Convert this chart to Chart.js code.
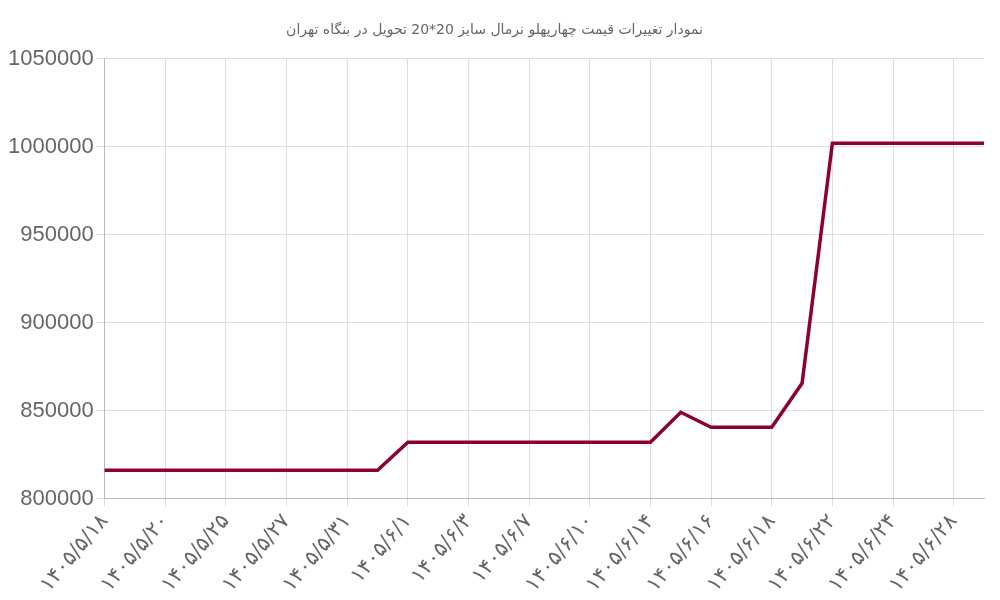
<!DOCTYPE html>
<html><head><meta charset="utf-8">
<script src="https://cdn.jsdelivr.net/npm/chart.js@4"></script>
<style>html,body{margin:0;padding:0;background:#fff}#w{width:1000px;height:600px}</style>
</head><body><div id="w"><canvas id="c"></canvas></div>
<script>
const labels = ["۱۴۰۵/۵/۱۸","۱۴۰۵/۵/۱۹","۱۴۰۵/۵/۲۰","۱۴۰۵/۵/۲۱","۱۴۰۵/۵/۲۵","۱۴۰۵/۵/۲۶","۱۴۰۵/۵/۲۷","۱۴۰۵/۵/۲۸","۱۴۰۵/۵/۳۱","۱۴۰۵/۵/۳۲","۱۴۰۵/۶/۱","۱۴۰۵/۶/۲","۱۴۰۵/۶/۳","۱۴۰۵/۶/۴","۱۴۰۵/۶/۷","۱۴۰۵/۶/۸","۱۴۰۵/۶/۱۰","۱۴۰۵/۶/۱۱","۱۴۰۵/۶/۱۴","۱۴۰۵/۶/۱۵","۱۴۰۵/۶/۱۶","۱۴۰۵/۶/۱۷","۱۴۰۵/۶/۱۸","۱۴۰۵/۶/۲۱","۱۴۰۵/۶/۲۲","۱۴۰۵/۶/۲۳","۱۴۰۵/۶/۲۴","۱۴۰۵/۶/۲۵","۱۴۰۵/۶/۲۸","۱۴۰۵/۶/۲۹"];
const prices = [816000,816000,816000,816000,816000,816000,816000,816000,816000,816000,832000,832000,832000,832000,832000,832000,832000,832000,832000,849000,840500,840500,840500,865500,1002000,1002000,1002000,1002000,1002000,1002000];
const title = "نمودار تغییرات قیمت چهارپهلو نرمال سایز 20*20 تحویل در بنگاه تهران";
new Chart(document.getElementById('c'), {
  type: 'line',
  data: { labels, datasets: [{ data: prices, borderColor: '#8b0036', borderWidth: 3.5, pointRadius: 0, tension: 0, fill: false }] },
  options: {
    responsive: true, maintainAspectRatio: false, animation: false,
    layout: { padding: { left: 5, right: 16, top: 0, bottom: 0 } },
    plugins: { legend: { display: false }, tooltip: { enabled: false },
      title: { display: true, text: title, color: '#666', font: { family: 'DejaVu Sans', size: 14, weight: 'normal' }, padding: { top: 22, bottom: 20 } } },
    scales: {
      x: { offset: false, grid: { color: '#ddd', tickLength: 8 }, border: { color: '#bbb' },
        ticks: { autoSkip: true, maxTicksLimit: 15, maxRotation: 50, minRotation: 50, color: '#666', font: { family: 'DejaVu Sans', size: 21 } } },
      y: { min: 800000, max: 1050000, grid: { color: '#ddd', tickLength: 8 }, border: { color: '#bbb' },
        ticks: { stepSize: 50000, color: '#666', font: { family: 'Liberation Sans', size: 22 }, callback: v => String(v) } }
    }
  }
});
</script></body></html>
